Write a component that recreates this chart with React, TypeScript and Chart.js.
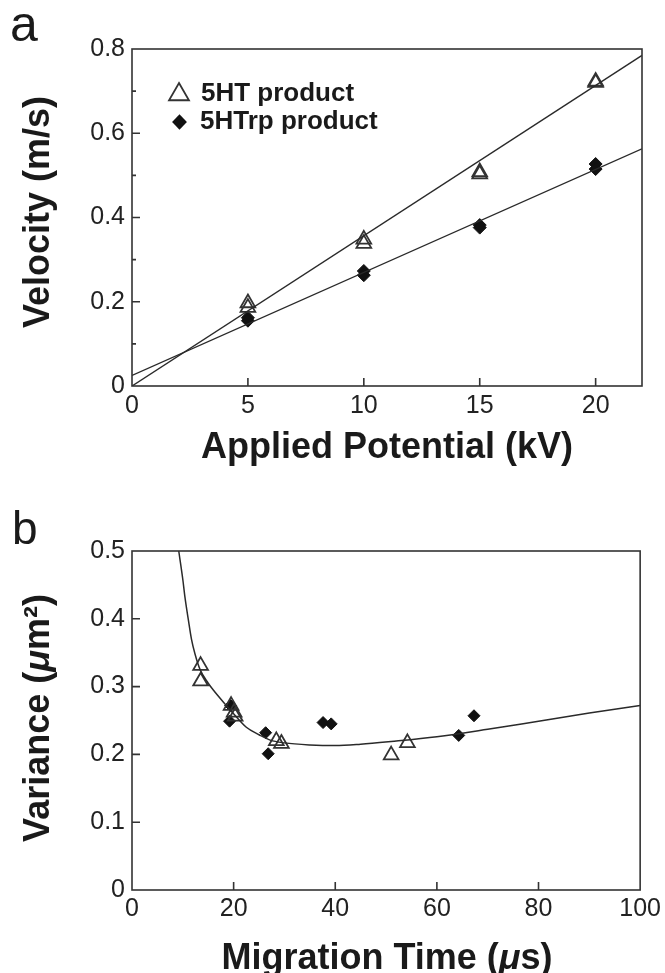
import React, { useEffect, useRef } from 'react';
import { Chart, registerables } from 'chart.js';

Chart.register(...registerables);

const FONT = '"Liberation Sans", Arial, Helvetica, sans-serif';

// ---------- Panel a ----------
const potentialKV = [5, 5, 10, 10, 15, 15, 20, 20];
const velocity5HT = [0.197, 0.186, 0.348, 0.338, 0.508, 0.503, 0.723, 0.72];
const velocity5HTrp = [0.162, 0.155, 0.273, 0.263, 0.382, 0.376, 0.527, 0.515];
const fitPotentialKV = [0, 22];
const fitVelocity5HT = [0.0, 0.785];
const fitVelocity5HTrp = [0.025, 0.563];
const aXTicks = [0, 5, 10, 15, 20];
const aYTicks = [0, 0.2, 0.4, 0.6, 0.8];
const aYMinorTicks = [0.1, 0.3, 0.5, 0.7];

// ---------- Panel b ----------
const time5HT = [13.5, 13.5, 19.5, 20.1, 20.3, 28.4, 29.4, 51.0, 54.2];
const variance5HT = [0.331, 0.308, 0.272, 0.262, 0.256, 0.22, 0.216, 0.199, 0.217];
const time5HTrp = [19.4, 19.2, 26.3, 26.8, 37.6, 39.2, 64.3, 67.3];
const variance5HTrp = [0.272, 0.249, 0.232, 0.201, 0.247, 0.245, 0.228, 0.257];
const curveTime = [9.2, 10, 10.4, 11.1, 11.7, 12.4, 13.4, 15, 16, 18, 20, 22.5, 25, 27.2, 30, 35, 40, 45, 51, 60, 70, 80, 90, 100];
const curveVariance = [0.5, 0.458, 0.433, 0.398, 0.37, 0.348, 0.325, 0.305, 0.295, 0.277, 0.26, 0.24, 0.229, 0.221, 0.217, 0.214, 0.213, 0.215, 0.219, 0.226, 0.237, 0.249, 0.261, 0.272];
const bXTicks = [0, 20, 40, 60, 80, 100];
const bYTicks = [0, 0.1, 0.2, 0.3, 0.4, 0.5];

const INK = '#1a1a1a';
const LINE = '#2a2a2a';

const pts = (xs: number[], ys: number[]) => xs.map((x, i) => ({ x, y: ys[i] }));

type Part = { text: string; font: string };

function drawRich(ctx: CanvasRenderingContext2D, parts: Part[], x: number, y: number, rotate: boolean) {
  ctx.save();
  ctx.translate(x, y);
  if (rotate) ctx.rotate(-Math.PI / 2);
  ctx.fillStyle = INK;
  ctx.textBaseline = 'alphabetic';
  ctx.textAlign = 'left';
  const widths = parts.map((p) => {
    ctx.font = p.font;
    return ctx.measureText(p.text).width;
  });
  const total = widths.reduce((a, b) => a + b, 0);
  let cx = -total / 2;
  parts.forEach((p, i) => {
    ctx.font = p.font;
    ctx.fillText(p.text, cx, 0);
    cx += widths[i];
  });
  ctx.restore();
}

function framePlugin(xMajor: number[], yMajor: number[], yMinor: number[]) {
  return {
    id: 'frameTicks',
    afterDatasetsDraw(chart: any) {
      const { ctx, chartArea } = chart;
      const { left, right, top, bottom } = chartArea;
      const x = chart.scales.x;
      const y = chart.scales.y;
      ctx.save();
      ctx.strokeStyle = '#333';
      ctx.lineWidth = 1.6;
      ctx.strokeRect(left, top, right - left, bottom - top);
      ctx.beginPath();
      xMajor.forEach((v) => {
        if (v <= x.min || v >= x.max) return;
        const px = x.getPixelForValue(v);
        ctx.moveTo(px, bottom);
        ctx.lineTo(px, bottom - 8);
      });
      yMajor.forEach((v) => {
        if (v <= y.min || v >= y.max) return;
        const py = y.getPixelForValue(v);
        ctx.moveTo(left, py);
        ctx.lineTo(left + 8, py);
      });
      yMinor.forEach((v) => {
        const py = y.getPixelForValue(v);
        ctx.moveTo(left, py);
        ctx.lineTo(left + 4, py);
      });
      ctx.stroke();
      ctx.restore();
    },
  };
}

function axisOpts(min: number, max: number, ticks: number[], kind: 'x' | 'y', size: number, padding: number) {
  return {
    type: 'linear' as const,
    min,
    max,
    afterBuildTicks: (s: any) => {
      s.ticks = ticks.map((v) => ({ value: v }));
    },
    afterFit: (s: any) => {
      if (kind === 'x') s.height = size;
      else s.width = size;
    },
    grid: { display: false, drawTicks: false },
    border: { display: false },
    ticks: {
      autoSkip: false,
      maxRotation: 0,
      padding,
      color: '#222',
      font: { family: FONT, size: 25 },
      callback: (v: any) => {
        const n = Number(v);
        if (kind === 'y') return n === 0 ? '0' : n.toFixed(1);
        return String(n);
      },
    },
  };
}

function PanelA() {
  const ref = useRef<HTMLCanvasElement>(null);
  useEffect(() => {
    const canvas = ref.current!;
    const textPlugin = {
      id: 'textA',
      afterDraw(chart: any) {
        const ctx = chart.ctx as CanvasRenderingContext2D;
        ctx.save();
        ctx.fillStyle = INK;
        ctx.font = `50px ${FONT}`;
        ctx.textBaseline = 'alphabetic';
        ctx.fillText('a', 10, 41);
        ctx.restore();
        drawRich(ctx, [{ text: 'Applied Potential (kV)', font: `bold 36px ${FONT}` }], 387, 458, false);
        drawRich(ctx, [{ text: 'Velocity (m/s)', font: `bold 36px ${FONT}` }], 49, 212, true);
        // legend
        ctx.save();
        ctx.strokeStyle = '#333';
        ctx.lineWidth = 1.8;
        const r = 11.5;
        const tx = 179, ty = 94.5;
        ctx.beginPath();
        ctx.moveTo(tx, ty - r);
        ctx.lineTo(tx + r * Math.sin((2 * Math.PI) / 3), ty - r * Math.cos((2 * Math.PI) / 3));
        ctx.lineTo(tx + r * Math.sin((4 * Math.PI) / 3), ty - r * Math.cos((4 * Math.PI) / 3));
        ctx.closePath();
        ctx.stroke();
        ctx.fillStyle = '#111';
        const dx = 179.5, dy = 122, dr = 7.8;
        ctx.beginPath();
        ctx.moveTo(dx, dy - dr);
        ctx.lineTo(dx + dr * 0.95, dy);
        ctx.lineTo(dx, dy + dr);
        ctx.lineTo(dx - dr * 0.95, dy);
        ctx.closePath();
        ctx.fill();
        ctx.font = `bold 26px ${FONT}`;
        ctx.fillStyle = INK;
        ctx.textBaseline = 'middle';
        ctx.fillText('5HT product', 201, 94);
        ctx.fillText('5HTrp product', 200, 122);
        ctx.restore();
      },
    };
    const chart = new Chart(canvas, {
      type: 'line',
      data: {
        datasets: [
          {
            label: '5HT fit',
            data: pts(fitPotentialKV, fitVelocity5HT),
            borderColor: LINE,
            borderWidth: 1.4,
            pointRadius: 0,
            fill: false,
          },
          {
            label: '5HTrp fit',
            data: pts(fitPotentialKV, fitVelocity5HTrp),
            borderColor: LINE,
            borderWidth: 1.4,
            pointRadius: 0,
            fill: false,
          },
          {
            label: '5HT product',
            data: pts(potentialKV, velocity5HT),
            showLine: false,
            pointStyle: 'triangle',
            pointRadius: 8.5,
            pointBorderWidth: 1.8,
            pointBorderColor: '#333',
            pointBackgroundColor: 'rgba(255,255,255,0)',
          },
          {
            label: '5HTrp product',
            data: pts(potentialKV, velocity5HTrp),
            showLine: false,
            pointStyle: 'rectRot',
            pointRadius: 6.5,
            pointBorderWidth: 1,
            pointBorderColor: '#111',
            pointBackgroundColor: '#111',
          },
        ] as any,
      },
      options: {
        responsive: false,
        animation: false,
        devicePixelRatio: 1,
        events: [],
        layout: { padding: { left: 0, right: 23, top: 49, bottom: 0 } },
        plugins: { legend: { display: false }, tooltip: { enabled: false }, title: { display: false } },
        scales: {
          x: axisOpts(0, 22, aXTicks, 'x', 94, 5) as any,
          y: axisOpts(0, 0.8, aYTicks, 'y', 132, 7) as any,
        },
      },
      plugins: [framePlugin([5, 10, 15, 20], aYTicks, aYMinorTicks), textPlugin],
    });
    return () => chart.destroy();
  }, []);
  return (
    <canvas
      ref={ref}
      width={665}
      height={480}
      style={{ position: 'absolute', left: 0, top: 0, width: 665, height: 480 }}
    />
  );
}

function PanelB() {
  const ref = useRef<HTMLCanvasElement>(null);
  useEffect(() => {
    const canvas = ref.current!;
    const textPlugin = {
      id: 'textB',
      afterDraw(chart: any) {
        const ctx = chart.ctx as CanvasRenderingContext2D;
        ctx.save();
        ctx.fillStyle = INK;
        ctx.font = `46px ${FONT}`;
        ctx.textBaseline = 'alphabetic';
        ctx.fillText('b', 12, 64);
        ctx.restore();
        drawRich(
          ctx,
          [
            { text: 'Migration Time (', font: `bold 36px ${FONT}` },
            { text: 'μ', font: `italic bold 36px ${FONT}` },
            { text: 's)', font: `bold 36px ${FONT}` },
          ],
          387,
          489,
          false
        );
        drawRich(
          ctx,
          [
            { text: 'Variance (', font: `bold 36px ${FONT}` },
            { text: 'μ', font: `italic bold 36px ${FONT}` },
            { text: 'm²)', font: `bold 36px ${FONT}` },
          ],
          49,
          238,
          true
        );
      },
    };
    const chart = new Chart(canvas, {
      type: 'line',
      data: {
        datasets: [
          {
            label: 'fit',
            data: pts(curveTime, curveVariance),
            borderColor: LINE,
            borderWidth: 1.5,
            pointRadius: 0,
            cubicInterpolationMode: 'monotone',
            fill: false,
          },
          {
            label: '5HT product',
            data: pts(time5HT, variance5HT),
            showLine: false,
            pointStyle: 'triangle',
            pointRadius: 8.5,
            pointBorderWidth: 1.8,
            pointBorderColor: '#333',
            pointBackgroundColor: 'rgba(255,255,255,0)',
          },
          {
            label: '5HTrp product',
            data: pts(time5HTrp, variance5HTrp),
            showLine: false,
            pointStyle: 'rectRot',
            pointRadius: 6,
            pointBorderWidth: 1,
            pointBorderColor: '#111',
            pointBackgroundColor: '#111',
          },
        ] as any,
      },
      options: {
        responsive: false,
        animation: false,
        devicePixelRatio: 1,
        events: [],
        layout: { padding: { left: 0, right: 23, top: 71, bottom: 0 } },
        plugins: { legend: { display: false }, tooltip: { enabled: false }, title: { display: false } },
        scales: {
          x: axisOpts(0, 100, bXTicks, 'x', 83, 4) as any,
          y: axisOpts(0, 0.5, bYTicks, 'y', 132, 7) as any,
        },
      },
      plugins: [framePlugin(bXTicks, bYTicks, []), textPlugin],
    });
    return () => chart.destroy();
  }, []);
  return (
    <canvas
      ref={ref}
      width={665}
      height={493}
      style={{ position: 'absolute', left: 0, top: 480, width: 665, height: 493 }}
    />
  );
}

export default function App() {
  return (
    <div style={{ position: 'absolute', left: 0, top: 0, width: 665, height: 973, background: '#fff' }}>
      <PanelA />
      <PanelB />
    </div>
  );
}
